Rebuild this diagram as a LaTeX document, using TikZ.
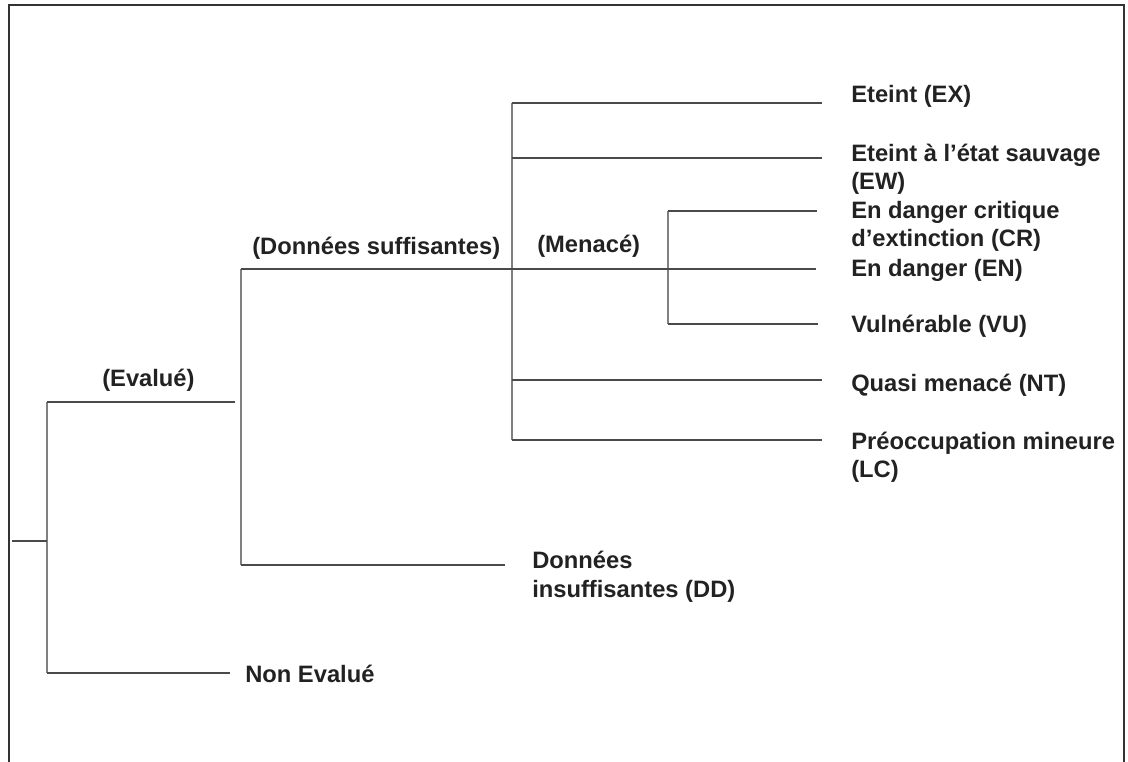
\documentclass[tikz,border=0pt]{standalone}
\usepackage{fontspec}
\setmainfont{Liberation Sans}
\usepackage{tikz}
\definecolor{txt}{HTML}{222222}
\definecolor{frm}{HTML}{333333}
\definecolor{ln}{HTML}{4A4A4A}
\definecolor{stemc}{HTML}{808080}

\begin{document}
\begin{tikzpicture}[x=0.75pt, y=-0.75pt]
\tikzstyle{lbl} = [anchor=base west, inner sep=0pt, align=left, text=txt, font=\bfseries\fontsize{17.8}{21.2}\selectfont]
\tikzstyle{branch} = [draw=ln, line width=0.8pt]
\tikzstyle{stem} = [draw=stemc, line width=0.9pt]
\tikzstyle{frame} = [draw=frm, line width=1.1pt]

\useasboundingbox (0,0) rectangle (1128,762);
\draw [frame] (9,762) -- (9,5) -- (1124,5) -- (1124,762);

% labels (base = last line)
\node [lbl] (evalue) at (102,387) {(Evalué)};
\node [lbl] (nonev) at (245,682) {Non Evalué};
\node [lbl] (suff) at (252,255) {(Données suffisantes)};
\node [lbl] (dd) at (532,597) {Données\\insuffisantes (DD)};
\node [lbl] (menace) at (537,253) {(Menacé)};
\node [lbl] (ex) at (851,103) {Eteint (EX)};
\node [lbl] (ew) at (851,190) {Eteint à l’état sauvage\\(EW)};
\node [lbl] (cr) at (851,246.5) {En danger critique\\d’extinction (CR)};
\node [lbl] (en) at (851,277) {En danger (EN)};
\node [lbl] (vu) at (851,333) {Vulnérable (VU)};
\node [lbl] (nt) at (851,392) {Quasi menacé (NT)};
\node [lbl] (lc) at (851,478) {Préoccupation mineure\\(LC)};

% junction points
\coordinate (root) at (12,541);
\coordinate (jroot) at (47,541);
\coordinate (jroottop) at (47,402);
\coordinate (jrootbot) at (47,673);
\coordinate (evend) at (235,402);
\coordinate (nonevend) at (230,673);
\coordinate (jevtop) at (241,269);
\coordinate (jevbot) at (241,565);
\coordinate (ddend) at (505,565);
\coordinate (jsufftop) at (512,103);
\coordinate (jsuffbot) at (512,440);
\coordinate (jsuffew) at (512,158);
\coordinate (jsuffnt) at (512,380);
\coordinate (jmentop) at (668,211);
\coordinate (jmenbot) at (668,324);
\coordinate (exend) at (822,103);
\coordinate (ewend) at (822,158);
\coordinate (crend) at (817,211);
\coordinate (enend) at (816,269);
\coordinate (vuend) at (818,324);
\coordinate (ntend) at (822,380);
\coordinate (lcend) at (822,440);

% tree
\draw [stem] (jroottop) -- (jrootbot);
\draw [stem] (jevtop) -- (jevbot);
\draw [stem] (jsufftop) -- (jsuffbot);
\draw [stem] (jmentop) -- (jmenbot);
\draw [branch] (root) -- (jroot);
\draw [branch] (jroottop) -- (evend);
\draw [branch] (jrootbot) -- (nonevend);
\draw [branch] (jevtop) -- (enend);
\draw [branch] (jevbot) -- (ddend);
\draw [branch] (jsufftop) -- (exend);
\draw [branch] (jsuffew) -- (ewend);
\draw [branch] (jsuffnt) -- (ntend);
\draw [branch] (jsuffbot) -- (lcend);
\draw [branch] (jmentop) -- (crend);
\draw [branch] (jmenbot) -- (vuend);
\end{tikzpicture}
\end{document}
